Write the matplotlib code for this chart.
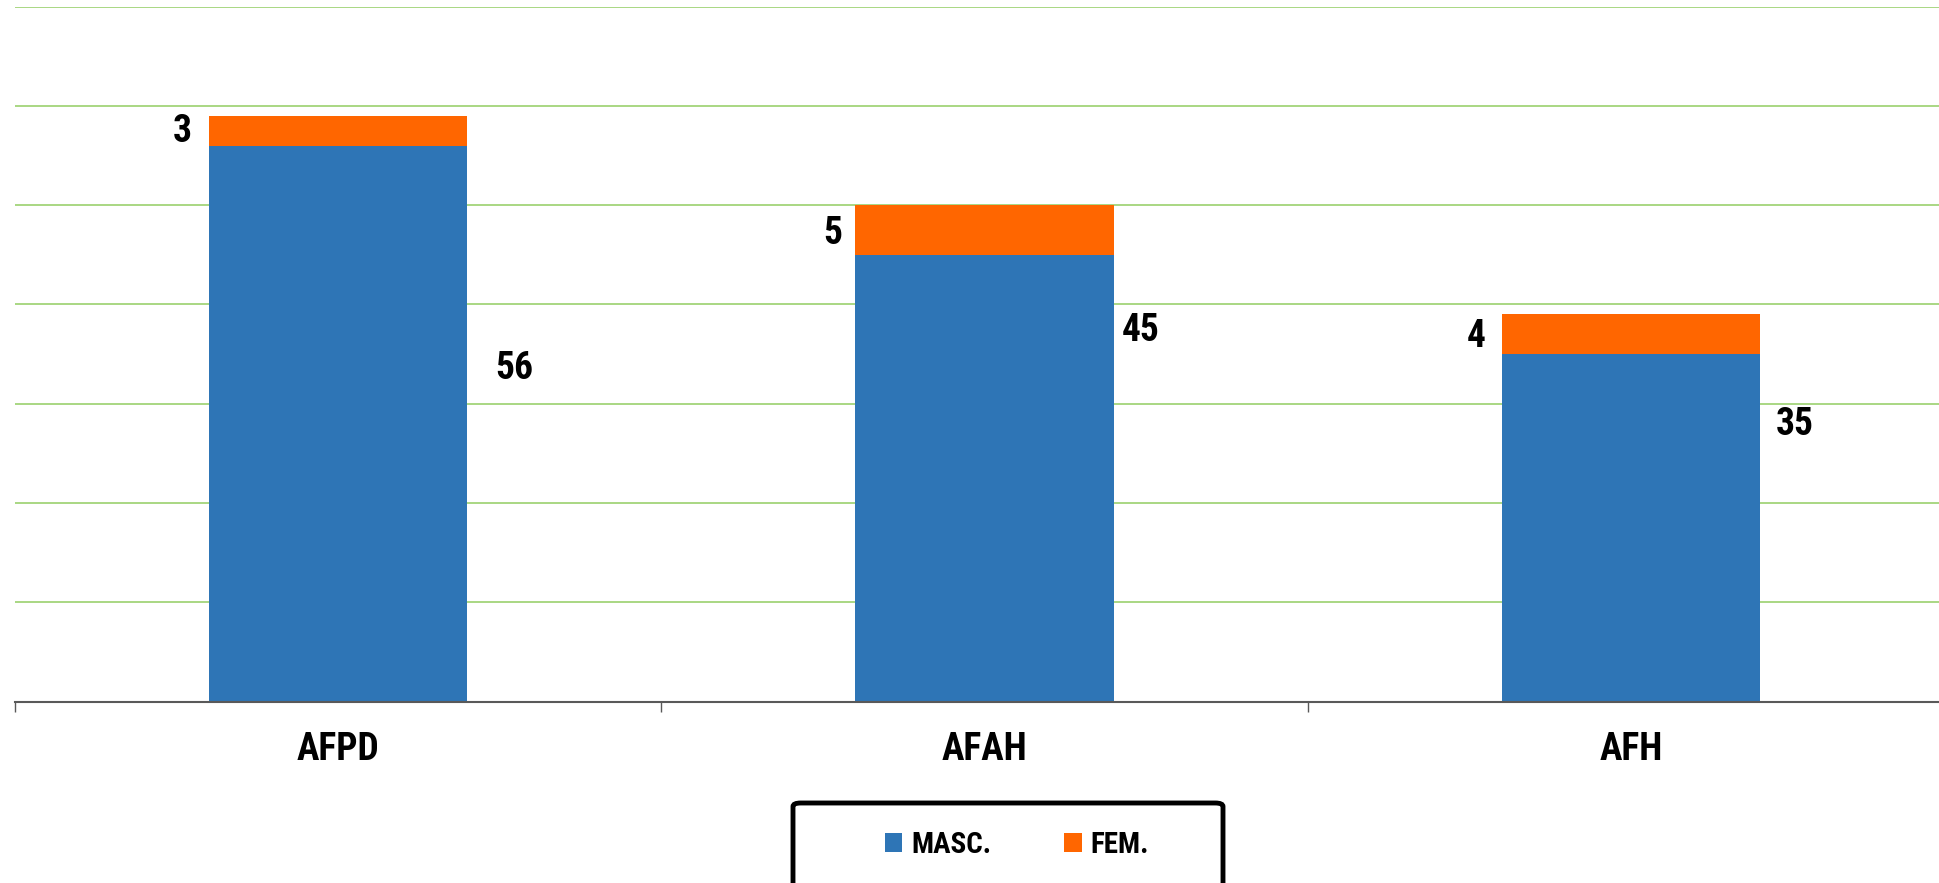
import matplotlib
matplotlib.use("Agg")
import matplotlib.pyplot as plt
from matplotlib.patches import FancyBboxPatch

categories = ["AFPD", "AFAH", "AFH"]
masc = [56, 45, 35]
fem = [3, 5, 4]

# where Excel left the labels (data units): x offset from bar centre, y
masc_lbl_dx = [0.272, 0.242, 0.254]
masc_lbl_y = [33.5, 37.4, 27.9]
fem_lbl_dx = [-0.242, -0.235, -0.240]
fem_lbl_y = [57.4, 47.1, 36.8]

BLUE = "#2E75B6"
ORANGE = "#FF6600"
GRID = "#A2D47A"

plt.rcParams["font.family"] = ["Liberation Sans Narrow", "DejaVu Sans Condensed",
                               "Roboto Condensed", "Roboto", "DejaVu Sans"]
plt.rcParams["font.weight"] = "bold"

W, H = 1939, 883
fig = plt.figure(figsize=(W / 100, H / 100), dpi=100)
ax = fig.add_axes([15 / W, 1 - 701.7 / H, 1.0, (701.7 - 6.5) / H])

x = list(range(len(categories)))
ax.bar(x, masc, width=0.4, color=BLUE, label="MASC.", zorder=2)
ax.bar(x, fem, width=0.4, bottom=masc, color=ORANGE, label="FEM.", zorder=2)

for i in x:
    ax.text(i + masc_lbl_dx[i], masc_lbl_y[i], str(masc[i]), ha="center", va="center",
            fontsize=27, fontweight="bold")
    ax.text(i + fem_lbl_dx[i], fem_lbl_y[i], str(fem[i]), ha="center", va="center",
            fontsize=27, fontweight="bold")

ax.set_xlim(-0.5, 2.5)
ax.set_ylim(0, 70)
ax.set_yticks(range(0, 71, 10))
ax.yaxis.grid(True, color=GRID, linewidth=1.3)
ax.set_axisbelow(True)
ax.tick_params(axis="y", length=0, labelleft=False)

ax.set_xticks(x)
ax.set_xticklabels(categories, fontsize=27, fontweight="bold")
ax.tick_params(axis="x", which="major", length=0, pad=21)
ax.set_xticks([-0.5, 0.5, 1.5, 2.5], minor=True)
ax.tick_params(axis="x", which="minor", length=7.5, width=1.0, color="#595959")

for side in ["left", "right", "top"]:
    ax.spines[side].set_visible(False)
ax.spines["bottom"].set_color("#595959")
ax.spines["bottom"].set_linewidth(1.5)

# legend box, runs off the bottom of the picture like the original
box = FancyBboxPatch((793 / W, -0.05), 430 / W, (883 - 803) / H + 0.05,
                     boxstyle="round,pad=0,rounding_size=0.004",
                     transform=fig.transFigure, facecolor="white",
                     edgecolor="black", linewidth=3.5, clip_on=False)
fig.patches.append(box)
fig.legend(loc="center", bbox_to_anchor=(1017 / W, 1 - 845 / H), ncol=2,
           frameon=False, handlelength=0.6, handleheight=0.6,
           handletextpad=0.3, columnspacing=2.5,
           prop={"weight": "bold", "size": 21})

fig.savefig("out.png", dpi=100)
